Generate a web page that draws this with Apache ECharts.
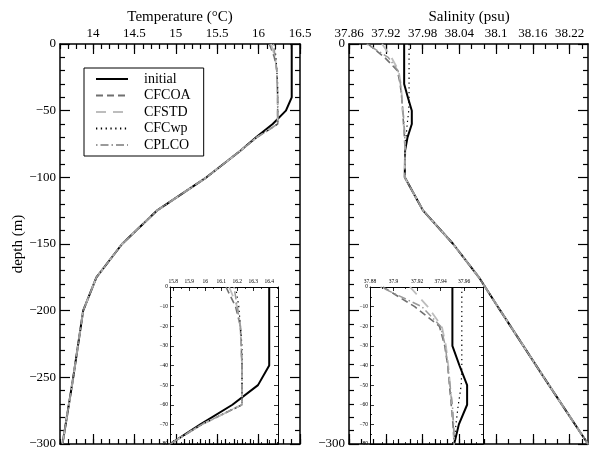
<!DOCTYPE html>
<html><head><meta charset="utf-8">
<script src="https://cdn.jsdelivr.net/npm/echarts@6/dist/echarts.min.js"></script>
<style>html,body{margin:0;padding:0;background:#fff}#c{width:589px;height:451px}</style>
</head><body><div id="c"></div><script>
// ---------- data ----------
const seriesNames = ['initial', 'CFCOA', 'CFSTD', 'CFCwp', 'CPLCO'];
const depthLevels = [0, -10, -20, -30, -40, -50, -60, -70, -80, -100, -125, -150, -175, -200, -250, -300];

const tempInitial = [16.40, 16.40, 16.40, 16.40, 16.40, 16.33, 16.17, 15.97, 15.78, 15.37, 14.77, 14.35, 14.04, 13.88, 13.76, 13.63];
const tempCFCOA   = [16.13, 16.19, 16.22, 16.225, 16.23, 16.23, 16.23, 15.98, 15.78, 15.37, 14.77, 14.35, 14.04, 13.88, 13.76, 13.63];
const tempCFSTD   = [16.15, 16.20, 16.22, 16.225, 16.23, 16.23, 16.23, 15.98, 15.78, 15.37, 14.77, 14.35, 14.04, 13.88, 13.76, 13.63];
const tempCFCwp   = [16.19, 16.21, 16.22, 16.23, 16.23, 16.23, 16.23, 15.98, 15.78, 15.37, 14.77, 14.35, 14.04, 13.88, 13.76, 13.63];
const tempCPLCO   = [16.18, 16.20, 16.22, 16.225, 16.23, 16.23, 16.23, 15.98, 15.78, 15.37, 14.77, 14.35, 14.04, 13.88, 13.76, 13.63];

const salInitial = [37.950, 37.950, 37.950, 37.950, 37.956, 37.9625, 37.9625, 37.9555, 37.9515, 37.951, 37.981, 38.030, 38.072, 38.107, 38.178, 38.250];
const salCFCOA   = [37.891, 37.918, 37.939, 37.9435, 37.946, 37.9475, 37.949, 37.9505, 37.9515, 37.951, 37.981, 38.030, 38.072, 38.107, 38.178, 38.250];
const salCFSTD   = [37.914, 37.929, 37.941, 37.9445, 37.9465, 37.948, 37.9495, 37.951, 37.9515, 37.951, 37.981, 38.030, 38.072, 38.107, 38.178, 38.250];
const salCFCwp   = [37.958, 37.958, 37.958, 37.958, 37.958, 37.9575, 37.955, 37.953, 37.9515, 37.951, 37.981, 38.030, 38.072, 38.107, 38.178, 38.250];
const salCPLCO   = [37.889, 37.924, 37.940, 37.944, 37.946, 37.948, 37.950, 37.951, 37.9515, 37.951, 37.981, 38.030, 38.072, 38.107, 38.178, 38.250];

const tempTicks      = [14, 14.5, 15, 15.5, 16, 16.5];
const salTicks       = [37.86, 37.92, 37.98, 38.04, 38.1, 38.16, 38.22];
const tempInsetTicks = [15.8, 15.9, 16, 16.1, 16.2, 16.3, 16.4];
const salInsetTicks  = [37.88, 37.9, 37.92, 37.94, 37.96];

// ---------- helpers ----------
const FONT = "'Liberation Serif', 'Times New Roman', serif";
function steps(min, max, step) {
  const out = [];
  const a = Math.ceil(min / step - 1e-6), b = Math.floor(max / step + 1e-6);
  for (let k = a; k <= b; k++) out.push(+(k * step).toFixed(6));
  return out;
}
const negFmt = v => v === 0 ? '0' : (v < 0 ? '\u2212' + Math.abs(v) : String(v));

const xAxes = [], yAxes = [];
function addX(grid, min, max, majors, minorStep, o) {
  const idx = xAxes.length;
  const minors = steps(min, max, minorStep);
  const line = {onZero: false, lineStyle: {color: '#000', width: o.lw}};
  const base = {type: 'value', gridIndex: grid, min: min, max: max, splitLine: {show: false}};
  const tickStyle = {color: '#000', width: o.tw};
  xAxes.push(Object.assign({}, base, {position: 'top', axisLine: line,
    axisTick: {inside: true, length: o.maj, customValues: majors, lineStyle: tickStyle},
    axisLabel: {customValues: majors, fontSize: o.fs, fontFamily: FONT, color: '#000', margin: o.margin}}));
  xAxes.push(Object.assign({}, base, {position: 'top', axisLine: {show: false, onZero: false},
    axisTick: {inside: true, length: o.min, customValues: minors, lineStyle: tickStyle}, axisLabel: {show: false}}));
  xAxes.push(Object.assign({}, base, {position: 'bottom', axisLine: line,
    axisTick: {inside: true, length: o.maj, customValues: majors, lineStyle: tickStyle}, axisLabel: {show: false}}));
  xAxes.push(Object.assign({}, base, {position: 'bottom', axisLine: {show: false, onZero: false},
    axisTick: {inside: true, length: o.min, customValues: minors, lineStyle: tickStyle}, axisLabel: {show: false}}));
  return idx;
}
function addY(grid, min, max, interval, minorSplit, o) {
  const idx = yAxes.length;
  const common = {type: 'value', gridIndex: grid, min: min, max: max, interval: interval,
    splitLine: {show: false}, minorSplitLine: {show: false},
    axisLine: {onZero: false, lineStyle: {color: '#000', width: o.lw}},
    axisTick: {inside: true, length: o.maj, lineStyle: {color: '#000', width: o.tw}},
    minorTick: {show: true, splitNumber: minorSplit, length: o.min, lineStyle: {color: '#000', width: o.tw}}};
  yAxes.push(Object.assign({}, common, {position: 'left',
    axisLabel: {fontSize: o.fs, fontFamily: FONT, color: '#000', margin: o.margin,
      formatter: v => o.keep(v) ? negFmt(v) : ''}}));
  yAxes.push(Object.assign({}, common, {position: 'right', axisLabel: {show: false}}));
  return idx;
}

const mainOpt = {lw: 1.5, tw: 1.2, maj: 10, min: 5, fs: 13, margin: 4};
const insetOpt = {lw: 1, tw: 0.8, maj: 4, min: 2, fs: 5.5, margin: 2};

const gT = addX(0, 13.6, 16.5, tempTicks, 0.1, mainOpt);
const gS = addX(1, 37.86, 38.25, salTicks, 0.02, mainOpt);
const gTi = addX(2, 15.78, 16.455, tempInsetTicks, 0.05, insetOpt);
const gSi = addX(3, 37.88, 37.976, salInsetTicks, 0.01, insetOpt);

const yT = addY(0, -300, 0, 50, 5, Object.assign({keep: v => true}, mainOpt));
const yS = addY(1, -300, 0, 50, 5, Object.assign({keep: v => v === 0 || v === -300}, mainOpt));
const yTi = addY(2, -80, 0, 10, 2, Object.assign({keep: v => true}, insetOpt));
const ySi = addY(3, -80, 0, 10, 2, Object.assign({keep: v => true}, insetOpt));

const styles = {
  initial: {color: '#000000', width: 2, type: 'solid'},
  CFCOA:   {color: '#707070', width: 1.6, type: [7, 4]},
  CFSTD:   {color: '#bdbdbd', width: 1.8, type: [10, 7]},
  CFCwp:   {color: '#000000', width: 1.2, type: [1.3, 3.5]},
  CPLCO:   {color: '#9a9a9a', width: 1.5, type: [1.5, 3, 8, 3]}
};
const tempData = {initial: tempInitial, CFCOA: tempCFCOA, CFSTD: tempCFSTD, CFCwp: tempCFCwp, CPLCO: tempCPLCO};
const salData  = {initial: salInitial, CFCOA: salCFCOA, CFSTD: salCFSTD, CFCwp: salCFCwp, CPLCO: salCPLCO};

const series = [];
function addSeries(dataMap, xi, yi) {
  seriesNames.forEach(n => {
    series.push({
      name: n, type: 'line', xAxisIndex: xi, yAxisIndex: yi, symbol: 'none', clip: true,
      lineStyle: styles[n], itemStyle: {color: styles[n].color, opacity: 0},
      data: depthLevels.map((d, i) => [dataMap[n][i], d])
    });
  });
}
addSeries(tempData, gT, yT);
addSeries(salData, gS, yS);
addSeries(tempData, gTi, yTi);
addSeries(salData, gSi, ySi);

const chart = echarts.init(document.getElementById('c'), null, {renderer: 'canvas'});
chart.setOption({
  animation: false,
  backgroundColor: '#fff',
  grid: [
    {left: 60, top: 44, width: 240, height: 400},
    {left: 349, top: 44, width: 239, height: 400},
    {left: 170, top: 287, width: 108, height: 157, show: true, backgroundColor: '#fff', borderWidth: 0},
    {left: 370, top: 287, width: 113, height: 157, show: true, backgroundColor: '#fff', borderWidth: 0}
  ],
  xAxis: xAxes,
  yAxis: yAxes,
  legend: {
    data: seriesNames, orient: 'vertical', left: 84, top: 68,
    padding: [4, 13, 4, 11], itemWidth: 32, itemHeight: 14, itemGap: 2.5,
    backgroundColor: '#fff', borderColor: '#000', borderWidth: 1, borderRadius: 0,
    selectedMode: false,
    itemStyle: {opacity: 0},
    textStyle: {fontFamily: FONT, fontSize: 14, color: '#000', padding: [0, 0, 0, 11]}
  },
  graphic: [
    {type: 'text', x: 180, y: 17, style: {text: 'Temperature (°C)', font: '15px ' + FONT, fill: '#000', textAlign: 'center', textVerticalAlign: 'middle'}},
    {type: 'text', x: 469, y: 17, style: {text: 'Salinity (psu)', font: '15px ' + FONT, fill: '#000', textAlign: 'center', textVerticalAlign: 'middle'}},
    {type: 'text', x: 18, y: 244, rotation: Math.PI / 2, style: {text: 'depth (m)', font: '15px ' + FONT, fill: '#000', textAlign: 'center', textVerticalAlign: 'middle'}}
  ],
  series: series
});
</script></body></html>
